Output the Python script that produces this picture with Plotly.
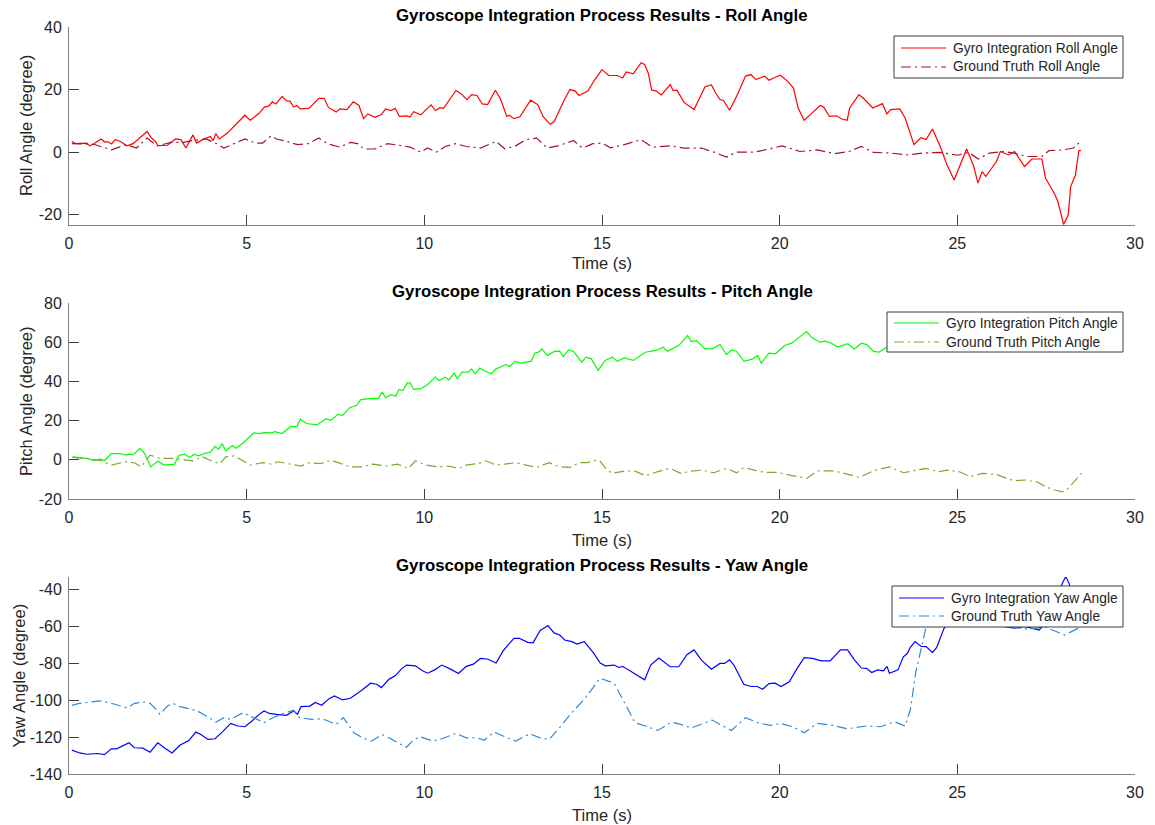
import plotly.graph_objects as go

# ---------------- data ----------------
roll_gyro_t = [0.08, 0.2, 0.5, 0.58, 0.7, 0.9, 1.0, 1.1, 1.2, 1.3,
               1.45, 1.63, 1.8, 2.0, 2.2, 2.3, 2.43, 2.5, 2.77, 3.0,
               3.15, 3.29, 3.49, 3.59, 3.76, 3.98, 4.06, 4.13, 4.23, 4.45,
               4.65, 4.95, 5.1, 5.35, 5.5, 5.62, 5.72, 5.82, 6.0, 6.12,
               6.22, 6.32, 6.41, 6.51, 6.75, 7.03, 7.18, 7.3, 7.52, 7.62,
               7.82, 8.0, 8.16, 8.29, 8.41, 8.61, 8.79, 8.91, 9.06, 9.18,
               9.3, 9.5, 9.6, 9.7, 9.9, 10.19, 10.31, 10.44, 10.54, 10.69,
               10.89, 11.03, 11.2, 11.33, 11.48, 11.63, 11.78, 12.0, 12.15, 12.32,
               12.39, 12.52, 12.69, 12.99, 13.19, 13.34, 13.54, 13.65, 13.95, 14.1,
               14.25, 14.35, 14.6, 14.8, 15.0, 15.19, 15.43, 15.58, 15.68, 15.88,
               16.1, 16.2, 16.3, 16.4, 16.52, 16.67, 16.92, 17.0, 17.11, 17.31,
               17.59, 17.9, 18.08, 18.2, 18.32, 18.42, 18.59, 18.79, 19.04, 19.19,
               19.33, 19.58, 19.7, 19.83, 20.02, 20.22, 20.39, 20.52, 20.69, 20.86,
               21.14, 21.24, 21.4, 21.6, 21.75, 21.9, 21.97, 22.23, 22.35, 22.62,
               22.89, 23.02, 23.12, 23.38, 23.53, 23.78, 23.97, 24.12, 24.3, 24.52,
               24.71, 24.91, 25.26, 25.45, 25.58, 25.7, 25.8, 26.1, 26.21, 26.44,
               26.61, 26.89, 27.1, 27.38, 27.48, 27.73, 27.83, 27.99, 28.12, 28.19,
               28.32, 28.42, 28.48]
roll_gyro = [3.4, 2.7, 2.9, 2.0, 2.7, 4.2, 3.3, 3.3, 2.6, 4.0,
             3.4, 2.0, 2.7, 4.5, 6.6, 4.8, 3.4, 2.1, 2.2, 4.2,
             4.0, 1.3, 5.5, 2.9, 4.0, 5.0, 3.7, 5.9, 4.2, 6.0,
             8.4, 11.8, 10.2, 12.4, 14.4, 14.7, 16.1, 15.4, 17.8, 16.4,
             16.3, 14.4, 14.9, 13.8, 14.0, 17.2, 17.2, 14.3, 12.8, 13.8,
             13.6, 16.1, 14.9, 10.7, 12.2, 11.1, 12.0, 13.8, 13.3, 14.0,
             11.4, 11.6, 11.2, 12.9, 11.9, 15.1, 13.3, 14.2, 14.0, 16.3,
             19.7, 18.7, 16.8, 18.4, 18.1, 15.4, 15.2, 19.8, 16.8, 11.4,
             11.8, 10.7, 11.3, 16.6, 15.2, 11.4, 8.9, 9.7, 17.0, 20.0,
             19.5, 18.1, 19.5, 23.2, 26.4, 24.5, 24.5, 23.7, 25.6, 25.0,
             28.6, 28.0, 25.3, 19.8, 19.6, 18.3, 21.6, 19.7, 19.8, 15.9,
             13.6, 20.9, 21.5, 18.9, 16.8, 16.5, 13.4, 17.9, 24.3, 24.8,
             23.2, 24.3, 23.0, 23.7, 24.6, 22.7, 20.5, 14.1, 10.2, 12.0,
             14.9, 14.4, 11.4, 11.6, 10.6, 10.2, 14.1, 18.4, 17.3, 14.1,
             15.5, 12.2, 13.6, 13.8, 10.9, 2.4, 4.6, 4.0, 7.4, 1.8,
             -4.1, -8.9, 1.0, -4.1, -9.9, -6.2, -7.8, -3.0, 0.2, -0.9,
             0.2, -4.6, -2.2, -2.2, -8.3, -13.2, -15.8, -23.1, -20.1, -11.0,
             -7.5, 0.5, 0.5]

roll_truth_t = [0.08, 0.7, 1.2, 1.6, 1.9, 2.2, 2.48, 2.87, 3.22, 3.47,
                3.86, 4.16, 4.36, 4.65, 4.95, 5.25, 5.45, 5.69, 5.84, 6.14,
                6.43, 6.73, 7.03, 7.27, 7.62, 7.92, 8.12, 8.31, 8.61, 8.96,
                9.2, 9.4, 9.6, 9.9, 10.09, 10.34, 10.59, 10.89, 11.18, 11.58,
                12.02, 12.27, 12.57, 12.86, 13.16, 13.46, 13.76, 14.2, 14.45, 14.74,
                15.0, 15.24, 15.63, 16.1, 16.42, 16.92, 17.31, 17.8, 18.15, 18.5,
                18.79, 19.28, 19.58, 20.07, 20.57, 21.06, 21.55, 21.95, 22.3, 22.64,
                23.13, 23.58, 24.02, 24.52, 25.01, 25.31, 25.6, 25.9, 26.29, 26.59,
                26.98, 27.38, 27.58, 27.97, 28.27, 28.42]
roll_truth = [2.7, 2.5, 0.7, 2.4, 1.3, 4.5, 2.0, 3.1, 3.1, 3.7,
              4.2, 2.7, 1.3, 2.7, 4.2, 2.9, 2.9, 5.2, 4.2, 3.4,
              2.4, 2.7, 4.5, 2.7, 1.6, 3.1, 2.7, 1.0, 1.0, 2.7,
              2.4, 2.0, 1.6, 0.0, 1.3, 0.0, 1.8, 2.7, 1.8, 1.3,
              3.4, 1.0, 2.0, 4.0, 4.5, 1.3, 2.0, 3.7, 1.3, 2.7,
              2.9, 1.4, 2.4, 4.0, 1.6, 2.0, 1.3, 1.3, 0.0, -1.6,
              0.0, 0.0, 0.7, 2.0, 0.2, 0.7, -0.5, 0.2, 1.8, -0.1,
              -0.3, -0.9, -0.3, -0.1, -1.0, -0.1, -2.2, -0.3, 0.2, -0.3,
              -1.4, -1.4, 0.5, 0.7, 1.3, 2.9]

pitch_gyro_t = [0.1, 0.5, 0.7, 0.9, 1.0, 1.19, 1.44, 1.61, 1.69, 1.8,
                2.0, 2.13, 2.3, 2.5, 2.68, 2.97, 3.09, 3.25, 3.39, 3.52,
                3.66, 3.81, 3.98, 4.11, 4.21, 4.31, 4.41, 4.6, 4.7, 4.9,
                5.2, 5.35, 5.49, 5.69, 5.79, 6.0, 6.24, 6.41, 6.51, 6.68,
                6.98, 7.23, 7.37, 7.57, 7.7, 7.9, 8.1, 8.21, 8.46, 8.71,
                8.81, 8.91, 9.06, 9.2, 9.28, 9.4, 9.52, 9.6, 9.7, 9.9,
                10.09, 10.31, 10.41, 10.59, 10.69, 10.84, 10.93, 11.06, 11.23, 11.33,
                11.43, 11.56, 11.68, 11.88, 12.02, 12.29, 12.41, 12.55, 12.72, 13.01,
                13.11, 13.21, 13.31, 13.46, 13.66, 13.81, 13.91, 14.06, 14.2, 14.43,
                14.55, 14.7, 14.89, 15.09, 15.29, 15.43, 15.63, 15.88, 16.22, 16.52,
                16.72, 16.84, 17.16, 17.29, 17.41, 17.51, 17.66, 17.9, 18.1, 18.32,
                18.5, 18.65, 18.78, 19.0, 19.25, 19.38, 19.48, 19.7, 19.88, 20.14,
                20.34, 20.49, 20.76, 20.9, 21.13, 21.28, 21.46, 21.63, 21.92, 22.1,
                22.3, 22.45, 22.64, 22.79, 22.99, 23.3, 23.7, 24.2, 24.8, 25.4,
                26.0, 26.6, 27.2, 27.8, 28.5]
pitch_gyro = [1.5, 0.7, -0.3, 0.3, -0.5, 3.2, 3.2, 2.4, 2.9, 2.5,
              5.8, 3.2, -3.6, -0.7, -2.7, -2.2, 2.2, 2.9, 1.2, 2.7,
              2.0, 3.2, 3.9, 6.9, 5.3, 8.3, 4.6, 7.3, 5.9, 8.6,
              13.7, 13.4, 13.9, 13.7, 14.4, 13.4, 17.1, 16.8, 20.7, 18.5,
              17.8, 21.0, 20.2, 23.2, 22.7, 26.6, 27.8, 30.7, 31.2, 31.2,
              34.6, 31.7, 33.2, 32.4, 35.8, 35.4, 39.2, 39.2, 35.9, 36.3,
              38.3, 42.2, 40.5, 42.2, 40.8, 44.2, 41.4, 44.7, 44.7, 46.4,
              43.9, 46.8, 45.6, 43.9, 46.4, 48.6, 47.6, 50.2, 49.3, 50.3,
              54.4, 54.9, 56.6, 53.2, 55.3, 55.4, 52.7, 56.1, 55.3, 49.8,
              52.4, 51.5, 45.6, 50.7, 52.4, 50.2, 52.0, 50.7, 54.9, 55.8,
              57.5, 55.4, 58.3, 60.8, 63.4, 60.3, 60.8, 56.6, 56.6, 58.8,
              53.7, 56.1, 55.4, 50.2, 51.5, 53.2, 49.3, 54.4, 54.1, 58.3,
              59.5, 61.7, 65.4, 62.5, 60.0, 60.5, 59.5, 57.5, 59.2, 56.6,
              59.5, 58.8, 55.3, 54.9, 57.1, 59.0, 61.0, 60.0, 62.0, 63.0,
              64.0, 63.0, 65.0, 66.0, 65.0]

pitch_truth_t = [0.1, 0.5, 0.9, 1.19, 1.59, 1.84, 2.03, 2.28, 2.58, 2.87,
                 3.17, 3.47, 3.76, 4.06, 4.26, 4.41, 4.65, 4.85, 5.1, 5.45,
                 5.69, 5.89, 6.24, 6.53, 6.73, 7.08, 7.37, 7.62, 7.92, 8.21,
                 8.56, 8.91, 9.25, 9.55, 9.75, 10.04, 10.39, 10.69, 10.98, 11.18,
                 11.53, 11.73, 12.02, 12.27, 12.57, 12.86, 13.16, 13.51, 13.81, 14.1,
                 14.35, 14.6, 14.84, 14.94, 15.14, 15.29, 15.63, 15.93, 16.22, 16.62,
                 16.92, 17.21, 17.51, 17.8, 18.15, 18.5, 18.79, 19.0, 19.28, 19.58,
                 19.93, 20.28, 20.77, 21.06, 21.46, 21.75, 22.25, 22.64, 23.09, 23.48,
                 23.88, 24.12, 24.47, 24.71, 25.06, 25.36, 25.7, 26.1, 26.59, 26.89,
                 27.24, 27.48, 27.73, 27.97, 28.12, 28.37, 28.51]
pitch_truth = [1.2, 0.7, -0.5, -2.7, -1.0, -1.5, -3.6, 2.4, 0.7, 0.7,
               0.2, -0.5, 1.5, -1.0, -1.9, 1.5, 2.0, -0.2, -2.7, -1.4,
               -2.2, -1.0, -2.2, -3.2, -1.5, -1.9, -0.2, -1.9, -3.6, -3.6,
               -2.2, -3.2, -2.2, -4.4, -0.5, -2.7, -3.6, -3.2, -4.4, -2.7,
               -1.9, -0.5, -2.7, -2.2, -1.5, -2.7, -3.9, -1.5, -3.6, -3.9,
               -1.5, -1.4, -0.2, -0.5, -5.3, -6.9, -5.8, -5.8, -8.1, -5.8,
               -4.4, -6.9, -5.8, -5.3, -6.6, -4.4, -6.6, -3.9, -5.3, -6.4,
               -6.4, -7.8, -9.5, -5.6, -5.6, -6.6, -9.0, -5.6, -3.6, -6.6,
               -5.3, -4.4, -6.1, -5.3, -6.1, -8.6, -6.9, -7.5, -10.7, -10.3,
               -11.2, -13.7, -15.4, -16.3, -14.6, -9.8, -6.6]

yaw_gyro_t = [0.08, 0.3, 0.5, 0.8, 1.0, 1.19, 1.34, 1.69, 1.84, 2.08,
              2.28, 2.5, 2.68, 2.9, 3.12, 3.37, 3.57, 3.71, 3.91, 4.11,
              4.31, 4.55, 4.75, 4.95, 5.15, 5.35, 5.49, 5.64, 5.84, 6.12,
              6.32, 6.43, 6.53, 6.78, 6.93, 7.11, 7.32, 7.47, 7.7, 7.92,
              8.21, 8.49, 8.66, 8.79, 9.01, 9.18, 9.35, 9.5, 9.75, 9.95,
              10.09, 10.29, 10.49, 10.74, 10.96, 11.18, 11.38, 11.58, 11.78, 12.02,
              12.22, 12.52, 12.67, 12.91, 13.06, 13.26, 13.48, 13.65, 13.81, 13.95,
              14.15, 14.3, 14.5, 14.75, 14.95, 15.09, 15.34, 15.48, 15.58, 15.78,
              16.13, 16.2, 16.37, 16.6, 16.92, 17.16, 17.39, 17.59, 17.8, 18.08,
              18.32, 18.45, 18.59, 18.71, 18.99, 19.19, 19.37, 19.52, 19.7, 19.87,
              20.04, 20.27, 20.48, 20.69, 20.93, 21.17, 21.42, 21.71, 21.91, 22.1,
              22.3, 22.44, 22.59, 22.76, 22.92, 23.02, 23.09, 23.33, 23.48, 23.58,
              23.68, 23.81, 23.98, 24.12, 24.3, 24.42, 24.62, 24.77, 25.0, 25.3,
              25.6, 26.0, 26.3, 26.6, 26.9, 27.1, 27.3, 27.5, 27.8, 27.95,
              28.05, 28.15, 28.3, 28.5]
yaw_gyro = [-127.1, -128.6, -129.3, -128.9, -129.5, -126.4, -126.4, -123.1, -125.8, -126.0,
            -128.2, -123.1, -125.8, -128.6, -124.4, -121.9, -117.3, -118.6, -121.3, -120.9,
            -117.3, -112.6, -114.0, -114.4, -111.3, -107.7, -105.9, -107.2, -107.7, -108.2,
            -105.9, -107.7, -103.5, -103.2, -101.3, -102.8, -99.2, -97.7, -99.9, -99.0,
            -95.0, -90.8, -91.4, -93.2, -88.6, -86.8, -83.2, -81.0, -81.4, -84.1,
            -85.4, -83.6, -81.0, -83.2, -85.6, -81.7, -80.5, -77.4, -77.7, -79.9,
            -73.2, -66.5, -66.5, -68.7, -69.0, -62.3, -59.6, -63.6, -64.7, -67.4,
            -68.3, -69.6, -68.3, -74.1, -79.9, -81.4, -81.0, -82.3, -81.7, -84.1,
            -88.6, -89.0, -81.0, -77.2, -81.9, -81.9, -75.4, -72.8, -78.3, -83.2,
            -80.1, -80.1, -78.1, -81.0, -91.4, -92.6, -92.6, -94.1, -91.0, -90.8,
            -92.6, -90.1, -83.2, -77.0, -77.4, -78.7, -78.7, -72.8, -72.8, -78.1,
            -82.6, -82.8, -85.0, -83.6, -84.1, -81.7, -85.4, -83.6, -76.5, -75.0,
            -71.4, -68.3, -70.9, -71.0, -74.1, -71.4, -61.4, -55.6, -57.0, -58.0,
            -60.0, -59.0, -60.0, -61.0, -60.0, -61.0, -62.0, -58.0, -46.0, -37.0,
            -33.0, -37.0, -50.0, -58.0]

yaw_truth_t = [0.08, 0.3, 0.6, 0.9, 1.19, 1.49, 1.64, 1.84, 2.08, 2.28,
               2.43, 2.56, 2.77, 2.92, 3.12, 3.37, 3.62, 3.86, 4.14, 4.36,
               4.55, 4.9, 5.15, 5.49, 5.74, 6.04, 6.32, 6.49, 6.83, 7.13,
               7.52, 7.72, 8.02, 8.26, 8.51, 8.81, 9.06, 9.25, 9.5, 9.7,
               9.9, 10.24, 10.49, 10.89, 11.18, 11.48, 11.68, 11.97, 12.27, 12.57,
               12.96, 13.26, 13.51, 13.76, 14.15, 14.5, 14.75, 14.94, 15.34, 15.63,
               15.93, 16.22, 16.57, 16.96, 17.21, 17.51, 17.8, 18.1, 18.4, 18.64,
               19.04, 19.38, 19.74, 20.02, 20.37, 20.69, 21.06, 21.46, 21.9, 22.44,
               22.84, 23.23, 23.53, 23.68, 23.83, 23.97, 24.12, 24.4, 24.8, 25.2,
               25.8, 26.49, 26.98, 27.48, 28.02, 28.46]
yaw_truth = [-102.8, -101.7, -101.0, -100.4, -101.7, -103.2, -104.2, -101.7, -101.0, -101.7,
             -104.6, -107.7, -103.2, -101.7, -103.5, -104.6, -105.9, -108.6, -111.9, -109.5,
             -110.4, -106.8, -109.0, -112.2, -109.5, -107.2, -105.5, -109.5, -110.4, -110.1,
             -113.1, -109.5, -117.7, -120.4, -122.2, -118.6, -120.9, -123.1, -125.5, -121.3,
             -119.9, -122.2, -120.9, -118.0, -120.4, -120.4, -121.7, -117.3, -119.9, -122.2,
             -118.2, -120.4, -121.3, -115.9, -106.8, -99.5, -93.2, -88.1, -90.8, -101.3,
             -112.2, -114.0, -116.4, -111.9, -113.1, -115.1, -113.1, -110.8, -114.0, -116.4,
             -109.5, -112.2, -113.7, -112.6, -114.4, -117.7, -112.6, -113.5, -115.5, -114.0,
             -114.4, -111.7, -114.0, -105.0, -85.0, -73.2, -60.5, -56.0, -57.0, -58.0,
             -59.6, -60.5, -61.4, -60.5, -64.7, -60.5]

x_ticks = [0, 5, 10, 15, 20, 25, 30]
roll_ticks = [-20, 0, 20, 40]
pitch_ticks = [-20, 0, 20, 40, 60, 80]
yaw_ticks = [-140, -120, -100, -80, -60, -40]

titles = ["Gyroscope Integration Process Results - Roll Angle",
          "Gyroscope Integration Process Results - Pitch Angle",
          "Gyroscope Integration Process Results - Yaw Angle"]
y_titles = ["Roll Angle (degree)", "Pitch Angle (degree)", "Yaw Angle (degree)"]
legend_names = [["Gyro Integration Roll Angle", "Ground Truth Roll Angle"],
                ["Gyro Integration Pitch Angle", "Ground Truth Pitch Angle"],
                ["Gyro Integration Yaw Angle", "Ground Truth Yaw Angle"]]

for a, b in [(roll_gyro_t, roll_gyro), (roll_truth_t, roll_truth),
             (pitch_gyro_t, pitch_gyro), (pitch_truth_t, pitch_truth),
             (yaw_gyro_t, yaw_gyro), (yaw_truth_t, yaw_truth)]:
    assert len(a) == len(b), (len(a), len(b))

# ---------------- figure ----------------
W, H = 1155, 825
FONT = "Liberation Sans, Arial, Helvetica, sans-serif"
DASHDOT = "10px,4px,2px,4px"

gyro_colors = ["#ff0000", "#00ff00", "#0000ff"]
truth_colors = ["#a2142f", "#77ac30", "#2f8ad6"]

# plot areas in pixels: (top, bottom)
x_left, x_right = 69, 1135
panels = [(27, 225), (303, 499), (577, 774)]
y_ranges = [[-23.3, 40], [-20, 80], [-140, -33.3]]
y_ticks = [roll_ticks, pitch_ticks, yaw_ticks]
# legend boxes in pixels: (left, top, right, bottom), and row centres
legend_boxes = [(894, 36, 1123, 78), (887, 312, 1123, 352), (892, 586, 1123, 627)]
legend_rows = [(48, 67), (323, 342), (598, 616)]
ytitle_x = [26, 26, 18]
title_y = [15, 291, 565]
xtitle_y = [263, 540, 815]

series = [(roll_gyro_t, roll_gyro, roll_truth_t, roll_truth),
          (pitch_gyro_t, pitch_gyro, pitch_truth_t, pitch_truth),
          (yaw_gyro_t, yaw_gyro, yaw_truth_t, yaw_truth)]


def px(x):
    return x / W


def py(y):
    return 1 - y / H


fig = go.Figure()
layout = dict(
    width=W, height=H, margin=dict(l=0, r=0, t=0, b=0, autoexpand=False),
    paper_bgcolor="white", plot_bgcolor="white",
    font=dict(family=FONT, size=13, color="#262626"),
    showlegend=False, annotations=[], shapes=[],
)

for i in range(3):
    sfx = "" if i == 0 else str(i + 1)
    gt, gv, tt, tv = series[i]
    fig.add_trace(go.Scatter(x=gt, y=gv, mode="lines", name=legend_names[i][0],
                             line=dict(color=gyro_colors[i], width=1.2),
                             xaxis="x" + sfx, yaxis="y" + sfx))
    fig.add_trace(go.Scatter(x=tt, y=tv, mode="lines", name=legend_names[i][1],
                             line=dict(color=truth_colors[i], width=1.2, dash=DASHDOT),
                             xaxis="x" + sfx, yaxis="y" + sfx))
    top, bot = panels[i]
    axis_common = dict(showline=True, linecolor="#808080", linewidth=1,
                       ticks="inside", ticklen=10, tickcolor="#404040", tickwidth=1,
                       showgrid=False, zeroline=False, mirror=False, automargin=False,
                       tickfont=dict(family=FONT, size=16, color="#262626"))
    layout["xaxis" + sfx] = dict(axis_common, domain=[px(x_left), px(x_right)],
                                 range=[0, 30], tickvals=x_ticks,
                                 ticktext=[str(v) for v in x_ticks],
                                 ticklabelstandoff=4,
                                 anchor="y" + sfx)
    layout["yaxis" + sfx] = dict(axis_common, domain=[py(bot), py(top)],
                                 range=y_ranges[i], tickvals=y_ticks[i],
                                 ticktext=[str(v) for v in y_ticks[i]],
                                 ticklabelstandoff=3,
                                 anchor="x" + sfx)

    # legend drawn as a framed box with sample lines and labels
    lx0, ly0, lx1, ly1 = legend_boxes[i]
    layout["shapes"].append(dict(type="rect", xref="paper", yref="paper",
                                 x0=px(lx0), x1=px(lx1), y0=py(ly1), y1=py(ly0),
                                 fillcolor="white", line=dict(color="#3c3c3c", width=1),
                                 layer="above"))
    for k, (col, dash) in enumerate([(gyro_colors[i], "solid"),
                                     (truth_colors[i], DASHDOT)]):
        ry = legend_rows[i][k]
        layout["shapes"].append(dict(type="line", xref="paper", yref="paper",
                                     x0=px(lx0 + 7), x1=px(lx0 + 52), y0=py(ry), y1=py(ry),
                                     line=dict(color=col, width=1.2, dash=dash),
                                     layer="above"))
        layout["annotations"].append(dict(text=legend_names[i][k], x=px(lx0 + 57), y=py(ry),
                                          xref="paper", yref="paper", showarrow=False,
                                          xanchor="left", yanchor="middle",
                                          font=dict(family=FONT, size=13.8, color="#262626")))

    cx = px((x_left + x_right) / 2)
    layout["annotations"] += [
        dict(text="<b>" + titles[i] + "</b>", x=cx, y=py(title_y[i]),
             xref="paper", yref="paper", showarrow=False,
             font=dict(family=FONT, size=16.8, color="#000000"),
             xanchor="center", yanchor="middle"),
        dict(text="Time (s)", x=cx, y=py(xtitle_y[i]),
             xref="paper", yref="paper", showarrow=False,
             font=dict(family=FONT, size=16.5, color="#262626"),
             xanchor="center", yanchor="middle"),
        dict(text=y_titles[i], x=px(ytitle_x[i]), y=py((top + bot) / 2),
             xref="paper", yref="paper", showarrow=False, textangle=-90,
             font=dict(family=FONT, size=16.5, color="#262626"),
             xanchor="center", yanchor="middle"),
    ]

fig.update_layout(**layout)
fig.write_html(
    "out.html",
    config={"displayModeBar": False},
    post_script="document.body.style.margin='0px';"
                "document.body.style.overflow='hidden';"
                "document.documentElement.style.overflow='hidden';",
)
